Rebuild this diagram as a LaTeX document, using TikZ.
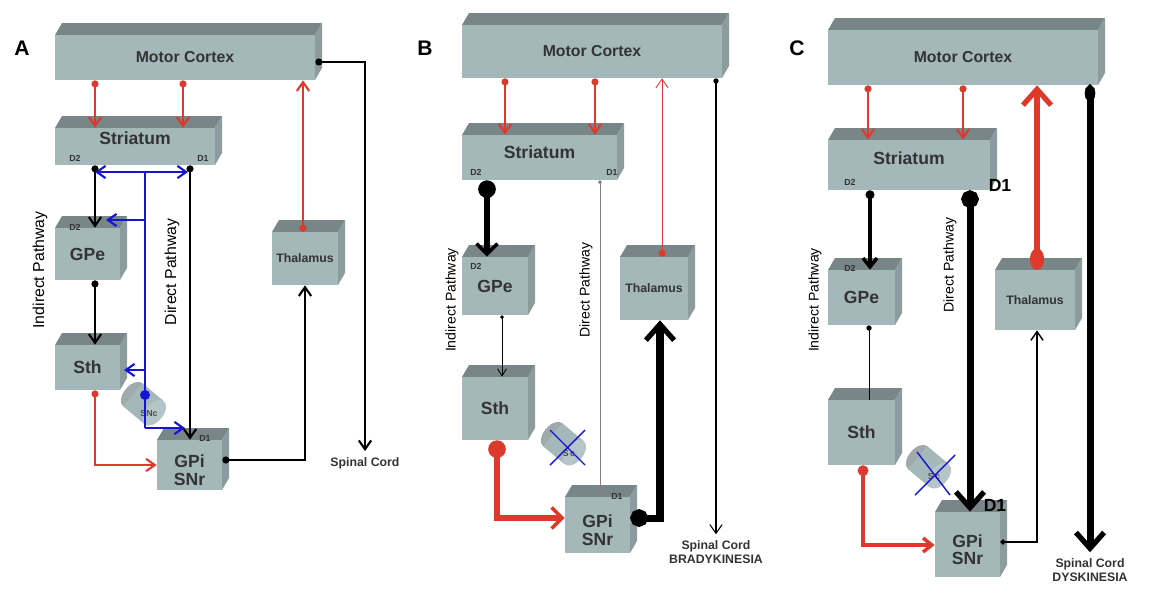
\documentclass[tikz,border=0pt]{standalone}
\usepackage{fontspec}
\setmainfont{Liberation Sans}
\usetikzlibrary{arrows.meta}
\usetikzlibrary{calc}
\usetikzlibrary{fit}
\usetikzlibrary{positioning}

\definecolor{boxfront}{RGB}{164,184,186}
\definecolor{boxtop}{RGB}{120,134,136}
\definecolor{boxside}{RGB}{140,156,158}
\definecolor{excred}{RGB}{222,58,44}
\definecolor{dopablue}{RGB}{20,20,210}

\tikzset{
	box/.style={fill=boxfront, draw=none, inner sep=0pt},
	lbl/.style={font=\bfseries, text=black!80},
	exc/.style={excred, line width=1.2pt, {Circle[length=4pt]}-{Straight Barb[length=5pt,width=7pt]}},
	inh/.style={black, line width=1.2pt, {Circle[length=4pt]}-{Straight Barb[length=5pt,width=7pt]}},
	dop/.style={dopablue, line width=1.2pt, -{Straight Barb[length=5pt,width=7pt]}},
}

% 3D box: name, x1, y1, x2, y2 (front face)
\newcommand{\cube}[5]{%
	\fill[boxtop] (#2,#3) -- (#2+7,#3-12) -- (#4+7,#3-12) -- (#4,#3) -- cycle;
	\fill[boxside] (#4,#3) -- (#4+7,#3-12) -- (#4+7,#5-12) -- (#4,#5) -- cycle;
	\node[box, fit={(#2,#3)(#4,#5)}] (#1) {};
}
\newcommand{\snc}[3]{%
	\begin{scope}[shift={(#1,#2)}, rotate=-40]
		\fill[boxtop!70] (-16,0) ellipse (9 and 15);
		\fill[boxfront] (-16,-15) rectangle (12,15);
		\fill[boxfront!80!white] (12,0) ellipse (9 and 15);
	\end{scope}
	\node[font=\bfseries\tiny, text=black!70] at (#1+4,#2+8) {#3};
}

\begin{document}
\begin{tikzpicture}[x=0.02cm, y=-0.02cm]
	\useasboundingbox (0,0) rectangle (1162,603);

	% ---------- A ----------
	\node[font=\bfseries\large] at (22,48) {A};
	\cube{mcA}{55}{35}{315}{80}
	\cube{strA}{55}{128}{215}{165}
	\cube{gpeA}{55}{228}{120}{280}
	\cube{sthA}{55}{345}{120}{390}
	\cube{gpiA}{157}{440}{222}{490}
	\cube{thaA}{272}{232}{338}{285}
	\snc{145}{405}{SNc}
	\node[lbl, font=\bfseries\small] at (mcA) {Motor Cortex};
	\node[lbl, font=\bfseries\normalsize] at ([yshift=5pt]strA) {Striatum};
	\node[lbl, font=\bfseries\normalsize] at (gpeA) {GPe};
	\node[lbl, font=\bfseries\normalsize] at (sthA) {Sth};
	\node[lbl, font=\bfseries\normalsize, align=center] at ([yshift=-3pt]gpiA) {GPi\\[-2pt]SNr};
	\node[lbl, font=\bfseries\scriptsize] at (thaA) {Thalamus};
	\node[lbl, font=\bfseries\tiny] at (75,158) {D2};
	\node[lbl, font=\bfseries\tiny] at (203,158) {D1};
	\node[lbl, font=\bfseries\tiny] at (75,227) {D2};
	\node[lbl, font=\bfseries\tiny] at (205,438) {D1};
	\node[rotate=90, font=\small] at (40,270) {Indirect Pathway};
	\node[rotate=90, font=\small] at (172,272) {Direct Pathway};
	\node[lbl, font=\bfseries\scriptsize] (scA) at (365,463) {Spinal Cord};

	\draw[exc] (95,0 |- mcA.south) -- (95,0 |- strA.north);
	\draw[exc] (183,0 |- mcA.south) -- (183,0 |- strA.north);
	\draw[exc] (303,0 |- thaA.north) -- (303,0 |- mcA.south);
	\draw[inh] (mcA.east |- 0,62) -| (scA.north);
	\draw[inh] (95,0 |- strA.south) -- (95,0 |- gpeA.north);
	\draw[inh] (190,0 |- strA.south) -- (190,0 |- gpiA.north);
	\draw[inh] (95,0 |- gpeA.south) -- (95,0 |- sthA.north);
	\draw[exc] (95,0 |- sthA.south) |- (gpiA.west |- 0,465);
	\draw[inh] (gpiA.east |- 0,460) -| (305,0 |- thaA.south);
	\draw[dop, {Straight Barb[length=5pt,width=7pt]}-{Straight Barb[length=5pt,width=7pt]}] (95,172) -- (188,172);
	\draw[dop, -] (145,172) -- (145,428);
	\draw[dop] (145,428) -- (185,428);
	\draw[dop] (145,220) -- (106,220);
	\draw[dop] (145,370) -- (124,370);
	\fill[dopablue] (145,395) circle (5);

	% ---------- B ----------
	\node[font=\bfseries\large] at (425,48) {B};
	\cube{mcB}{462}{25}{722}{78}
	\cube{strB}{462}{135}{617}{180}
	\cube{gpeB}{462}{257}{528}{315}
	\cube{sthB}{462}{377}{528}{440}
	\cube{gpiB}{565}{497}{630}{553}
	\cube{thaB}{620}{257}{688}{320}
	\snc{565}{445}{S\,c}
	\draw[dopablue, line width=0.8pt] (550,430) -- (585,465) (585,430) -- (550,465);
	\node[lbl, font=\bfseries\small] at (mcB) {Motor Cortex};
	\node[lbl, font=\bfseries\normalsize] at ([yshift=3pt]strB) {Striatum};
	\node[lbl, font=\bfseries\normalsize] at (gpeB) {GPe};
	\node[lbl, font=\bfseries\normalsize] at (sthB) {Sth};
	\node[lbl, font=\bfseries\normalsize, align=center] at ([yshift=-3pt]gpiB) {GPi\\[-2pt]SNr};
	\node[lbl, font=\bfseries\scriptsize] at (thaB) {Thalamus};
	\node[lbl, font=\bfseries\tiny] at (476,172) {D2};
	\node[lbl, font=\bfseries\tiny] at (612,172) {D1};
	\node[lbl, font=\bfseries\tiny] at (476,266) {D2};
	\node[lbl, font=\bfseries\tiny] at (617,496) {D1};
	\node[rotate=90, font=\footnotesize] at (452,300) {Indirect Pathway};
	\node[rotate=90, font=\footnotesize] at (586,290) {Direct Pathway};
	\node[lbl, font=\bfseries\scriptsize, align=center] (scB) at (716,552) {Spinal Cord\\BRADYKINESIA};

	\draw[exc] (505,0 |- mcB.south) -- (505,0 |- strB.north);
	\draw[exc] (595,0 |- mcB.south) -- (595,0 |- strB.north);
	\draw[exc, line width=0.5pt] (662,0 |- thaB.north) -- (662,0 |- mcB.south);
	\draw[inh, line width=0.6pt, {Circle[length=3pt]}-{Straight Barb[length=5pt,width=7pt]}] (716,0 |- mcB.south) -- (scB.north);
	\draw[inh, line width=3.5pt, {Circle[length=10pt]}-{Straight Barb[length=6pt,width=12pt,line width=2pt]}] (487,0 |- strB.south) -- (487,0 |- gpeB.north);
	\draw[gray, line width=0.5pt, {Circle[length=2pt]}-{Straight Barb[length=4pt,width=5pt]}] (600,0 |- strB.south) -- (600,0 |- gpiB.north);
	\draw[inh, line width=0.5pt, {Circle[length=2pt]}-{Straight Barb[length=4pt,width=5pt]}] (502,0 |- gpeB.south) -- (502,0 |- sthB.north);
	\draw[exc, line width=3pt, {Circle[length=10pt]}-{Straight Barb[length=6pt,width=12pt,line width=2pt]}] (497,0 |- sthB.south) |- (gpiB.west |- 0,518);
	\draw[inh, line width=4pt, {Circle[length=10pt]}-{Straight Barb[length=9pt,width=16pt,line width=3pt]}] (gpiB.east |- 0,518) -| (660,0 |- thaB.south);

	% ---------- C ----------
	\node[font=\bfseries\large] at (797,48) {C};
	\cube{mcC}{828}{30}{1098}{85}
	\cube{strC}{828}{140}{990}{190}
	\cube{gpeC}{828}{270}{895}{325}
	\cube{sthC}{828}{400}{895}{465}
	\cube{gpiC}{935}{512}{1000}{577}
	\cube{thaC}{995}{270}{1075}{330}
	\snc{930}{468}{S\,c}
	\draw[dopablue, line width=0.8pt] (917,452) -- (950,495) (955,455) -- (915,495);
	\node[lbl, font=\bfseries\small] at (mcC) {Motor Cortex};
	\node[lbl, font=\bfseries\normalsize] at ([yshift=4pt]strC) {Striatum};
	\node[lbl, font=\bfseries\normalsize] at (gpeC) {GPe};
	\node[lbl, font=\bfseries\normalsize] at (sthC) {Sth};
	\node[lbl, font=\bfseries\normalsize, align=center] at ([yshift=-3pt]gpiC) {GPi\\[-2pt]SNr};
	\node[lbl, font=\bfseries\scriptsize] at (thaC) {Thalamus};
	\node[lbl, font=\bfseries\tiny] at (850,182) {D2};
	\node[font=\bfseries\normalsize] at (1000,185) {D1};
	\node[lbl, font=\bfseries\tiny] at (850,268) {D2};
	\node[font=\bfseries\normalsize] at (995,505) {D1};
	\node[rotate=90, font=\footnotesize] at (815,300) {Indirect Pathway};
	\node[rotate=90, font=\footnotesize] at (950,265) {Direct Pathway};
	\node[lbl, font=\bfseries\scriptsize, align=center] (scC) at (1090,570) {Spinal Cord\\DYSKINESIA};

	\draw[exc] (868,0 |- mcC.south) -- (868,0 |- strC.north);
	\draw[exc] (963,0 |- mcC.south) -- (963,0 |- strC.north);
	\draw[exc, line width=3.5pt, {Ellipse[length=12pt,width=8pt]}-{Straight Barb[length=9pt,width=16pt,line width=3pt]}] (1037,0 |- thaC.north) -- (1037,0 |- mcC.south);
	\draw[inh, line width=4pt, {Ellipse[length=9pt,width=6pt]}-{Straight Barb[length=9pt,width=16pt,line width=3pt]}] (1090,0 |- mcC.south) -- (scC.north);
	\draw[inh, line width=2pt, {Circle[length=5pt]}-{Straight Barb[length=5pt,width=8pt]}] (870,0 |- strC.south) -- (870,0 |- gpeC.north);
	\draw[inh, line width=4pt, {Circle[length=10pt]}-{Straight Barb[length=9pt,width=16pt,line width=3pt]}] (970,0 |- strC.south) -- (970,0 |- gpiC.north);
	\draw[black, line width=0.5pt, {Circle[length=3pt]}-] (869,0 |- gpeC.south) -- (869,0 |- sthC.north);
	\draw[exc, line width=2pt, {Circle[length=6pt]}-{Straight Barb[length=5pt,width=8pt]}] (863,0 |- sthC.south) |- (gpiC.west |- 0,545);
	\draw[inh, line width=0.8pt, {Circle[length=3pt]}-{Straight Barb[length=5pt,width=7pt]}] (gpiC.east |- 0,542) -| (1037,0 |- thaC.south);
\end{tikzpicture}
\end{document}
